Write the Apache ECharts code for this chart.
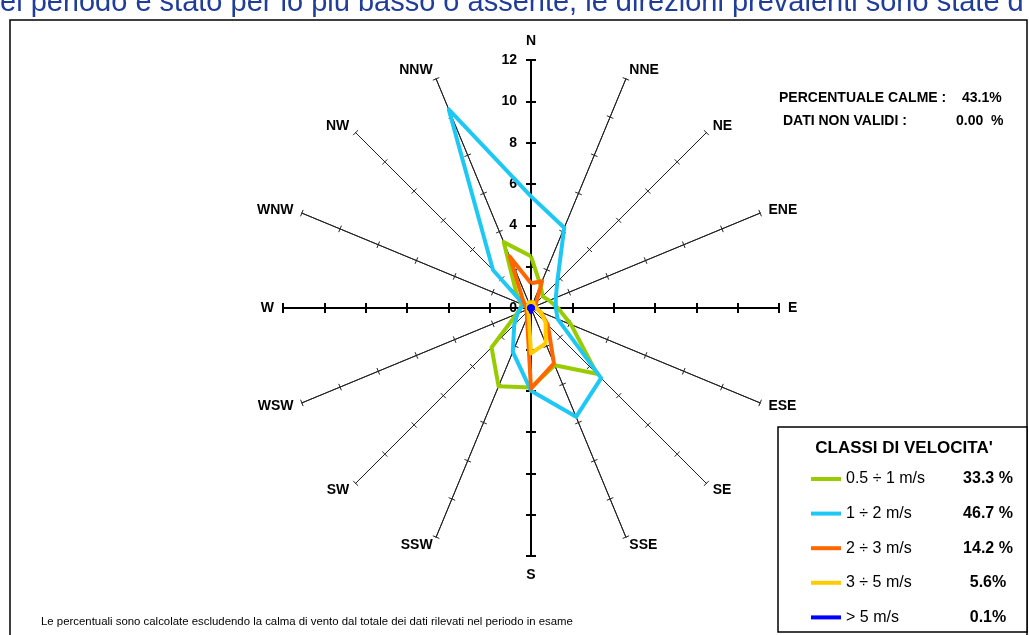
<!DOCTYPE html>
<html>
<head>
<meta charset="utf-8">
<script src="https://cdn.jsdelivr.net/npm/echarts@6/dist/echarts.min.js"></script>
<style>
  html, body { margin: 0; padding: 0; background: #fff; }
  #rose { width: 1029px; height: 635px; }
</style>
</head>
<body>
<div id="rose"></div>
<script>
// Compass sectors, clockwise from north
const directions = ['N', 'NNE', 'NE', 'ENE', 'E', 'ESE', 'SE', 'SSE', 'S', 'SSW', 'SW', 'WSW', 'W', 'WNW', 'NW', 'NNW'];
const mainDirections = ['N', 'E', 'S', 'W'];

// Frequency (%) per sector for each speed class, same order as directions
const speed05to1 = [2.5, 1.2, 0.8, 0.95, 1.3, 2.1, 4.5, 3.0, 3.85, 4.1, 2.7, 0.75, 0.5, 0.5, 1.0, 3.45];
const speed1to2  = [5.4, 4.2, 1.8, 1.3, 1.2, 1.4, 4.8, 5.7, 4.0, 2.3, 1.15, 0.7, 0.5, 0.35, 2.6, 10.4];
const speed2to3  = [1.2, 1.4, 0.35, 0.25, 0.25, 0.5, 1.15, 2.9, 3.9, 0.5, 0.3, 0.25, 0.2, 0.3, 0.55, 2.7];
const speed3to5  = [0.3, 0.3, 0.2, 0.2, 0.25, 0.5, 1.0, 1.85, 2.2, 0.3, 0.2, 0.15, 0.15, 0.15, 0.2, 0.3];
const speedOver5 = [0.1, 0.1, 0.1, 0.1, 0.1, 0.1, 0.1, 0.1, 0.2, 0.1, 0.1, 0.1, 0.1, 0.1, 0.1, 0.1];

const classNames  = ['0.5 ÷ 1 m/s', '1 ÷ 2 m/s', '2 ÷ 3 m/s', '3 ÷ 5 m/s', '> 5 m/s'];
const classShares = ['33.3 %', '46.7 %', '14.2 %', '5.6%', '0.1%'];
const classColors = ['#99cc00', '#1ec8f5', '#ff6600', '#ffcc00', '#0000ff'];
const classValues = [speed05to1, speed1to2, speed2to3, speed3to5, speedOver5];

const axisMax = 12;
const axisSplits = 6;
const calmShare = '43.1%';
const invalidShare = '0.00  %';

// Radar places indicators counter-clockwise, so reverse the compass order keeping N first
function ccw(arr) {
  return arr.map((_, i) => arr[(arr.length - i) % arr.length]);
}

const centre = [531, 308];
const radius = 248;
const font = 'Arial, "Liberation Sans", sans-serif';

function radarBase(names, extra) {
  return Object.assign({
    center: centre,
    radius: radius,
    startAngle: 90,
    splitNumber: axisSplits,
    shape: 'polygon',
    // vertical axes keep their names a little further from the tip
    indicator: names.map(n => (n === 'N' || n === 'S')
      ? { name: n, min: 0, max: axisMax, nameGap: 12 }
      : { name: n, min: 0, max: axisMax }),
    splitLine: { show: false },
    splitArea: { show: false },
    axisLabel: { show: false },
    axisName: { show: false }
  }, extra);
}

const spokeLine = { lineStyle: { color: '#222', width: 1 } };
const mainLine = { lineStyle: { color: '#000', width: 2 } };
const spokeTick = { color: '#222', width: 1 };
const mainTick = { color: '#000', width: 2 };

// Ticks are drawn once on each side of every axis so that they cross it
const radars = [
  radarBase(ccw(directions), {
    nameGap: 9,
    axisName: { show: true, color: '#000', fontWeight: 'bold', fontSize: 14, fontFamily: font },
    axisLine: spokeLine,
    axisTick: { show: true, length: 3.5, lineStyle: spokeTick }
  }),
  radarBase(ccw(directions), {
    axisLine: spokeLine,
    axisTick: { show: true, length: -3.5, lineStyle: spokeTick }
  }),
  radarBase(ccw(mainDirections), {
    axisLine: mainLine,
    axisTick: { show: true, length: 5, lineStyle: mainTick }
  }),
  radarBase(ccw(mainDirections), {
    axisLine: mainLine,
    axisTick: { show: true, length: -5, lineStyle: mainTick }
  }),
  // value labels along the north axis
  radarBase(['N'], {
    axisLine: { show: false },
    axisTick: { show: false },
    axisLabel: { show: true, color: '#000', fontWeight: 'bold', fontSize: 14, fontFamily: font, margin: 14 }
  })
];

const series = classNames.map((name, k) => ({
  type: 'radar',
  name: name,
  radarIndex: 0,
  symbol: 'none',
  silent: true,
  lineStyle: { width: 4, color: classColors[k] },
  itemStyle: { color: classColors[k] },
  data: [{ name: name, value: ccw(classValues[k]) }]
}));

const chart = echarts.init(document.getElementById('rose'), null, { renderer: 'canvas' });
chart.setOption({
  animation: false,
  backgroundColor: '#fff',
  color: classColors,
  radar: radars,
  legend: {
    orient: 'vertical',
    left: 811,
    top: 470,
    padding: 0,
    icon: 'rect',
    itemWidth: 30,
    itemHeight: 4,
    itemGap: 16.6,
    selectedMode: false,
    data: classNames,
    formatter: name => '{n|' + name + '}{p|' + classShares[classNames.indexOf(name)] + '}',
    textStyle: {
      color: '#000',
      fontFamily: font,
      lineHeight: 18,
      rich: {
        n: { width: 116, fontSize: 16, fontFamily: font, color: '#000' },
        p: { width: 52, align: 'center', fontSize: 16, fontWeight: 'bold', fontFamily: font, color: '#000' }
      }
    }
  },
  graphic: [
    { type: 'rect', shape: { x: 10, y: 20, width: 1017, height: 640 }, style: { fill: null, stroke: '#000', lineWidth: 1.5 }, silent: true, z: -1 },
    { type: 'rect', shape: { x: 778, y: 427, width: 249, height: 205 }, style: { fill: '#fff', stroke: '#000', lineWidth: 1.5 }, silent: true, z: -1 },
    { type: 'text', x: 0, y: 17, style: { text: 'el periodo è stato per lo più basso o assente, le direzioni prevalenti sono state d', font: '29px ' + font, fill: '#1f3d99', textVerticalAlign: 'bottom' } },
    { type: 'text', x: 779, y: 98, style: { text: 'PERCENTUALE CALME :', font: 'bold 14px ' + font, fill: '#000', textVerticalAlign: 'middle' } },
    { type: 'text', x: 962, y: 98, style: { text: calmShare, font: 'bold 14px ' + font, fill: '#000', textVerticalAlign: 'middle' } },
    { type: 'text', x: 783, y: 121, style: { text: 'DATI NON VALIDI :', font: 'bold 14px ' + font, fill: '#000', textVerticalAlign: 'middle' } },
    { type: 'text', x: 956, y: 121, style: { text: invalidShare, font: 'bold 14px ' + font, fill: '#000', textVerticalAlign: 'middle' } },
    { type: 'text', x: 904, y: 448, style: { text: "CLASSI DI VELOCITA'", font: 'bold 17px ' + font, fill: '#000', textAlign: 'center', textVerticalAlign: 'middle' } },
    { type: 'text', x: 41, y: 622, style: { text: 'Le percentuali sono calcolate escludendo la calma di vento dal totale dei dati rilevati nel periodo in esame', font: '11.4px ' + font, fill: '#000', textVerticalAlign: 'middle' } }
  ],
  series: series
});
</script>
</body>
</html>
